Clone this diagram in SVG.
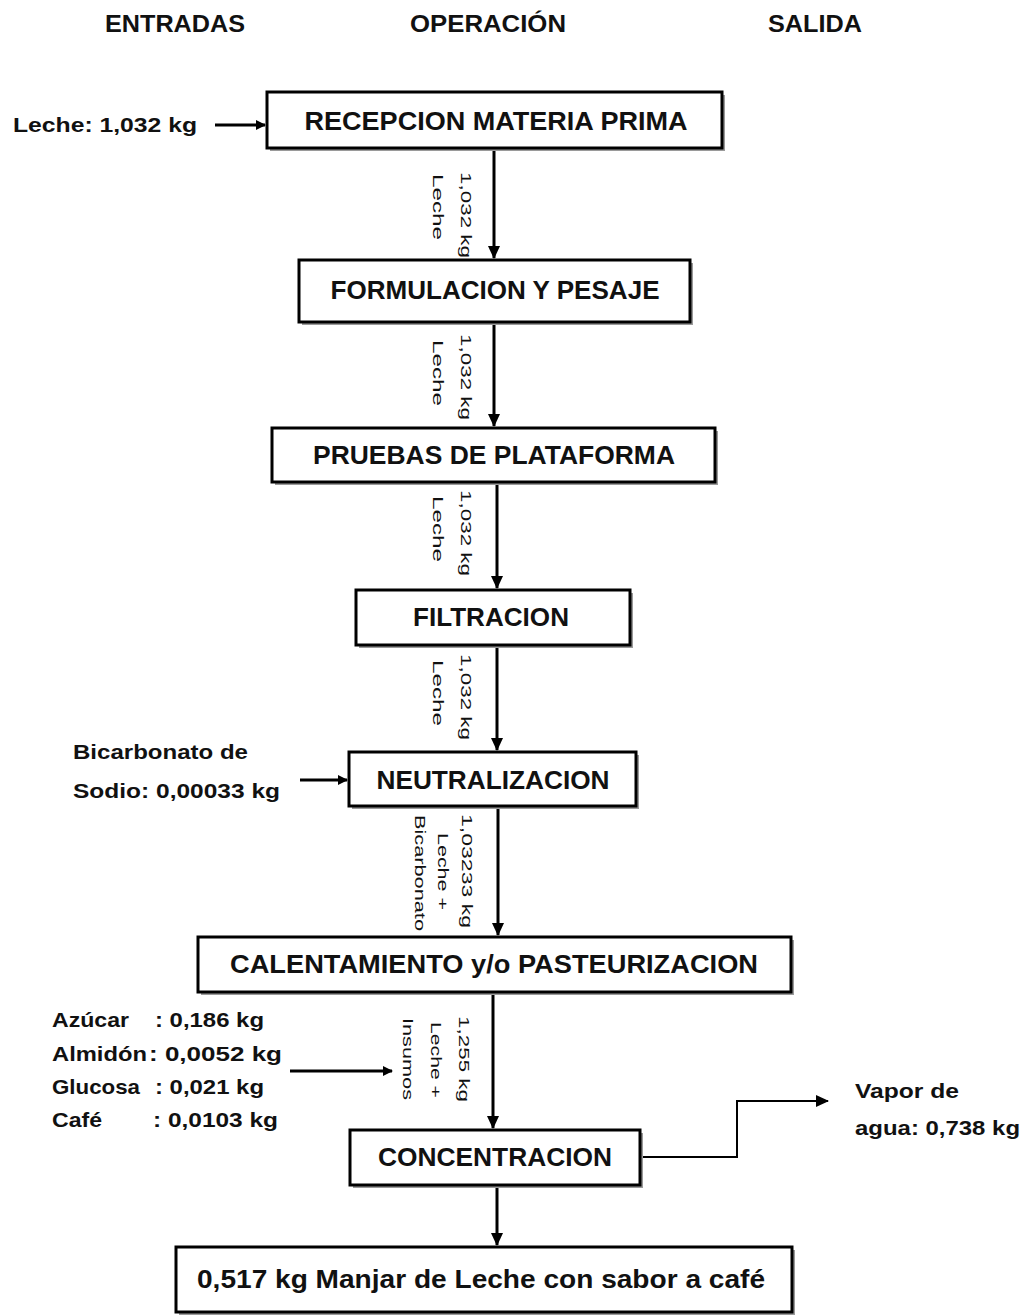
<svg xmlns="http://www.w3.org/2000/svg" width="1025" height="1315" viewBox="0 0 1025 1315">
<style>
.hdr{font-family:"Liberation Sans",Arial,sans-serif;font-weight:bold;font-size:23px;fill:#111}
.bt{font-family:"Liberation Sans",Arial,sans-serif;font-weight:bold;font-size:25px;fill:#111;text-anchor:middle}
.in{font-family:"Liberation Sans",Arial,sans-serif;font-weight:bold;font-size:21px;fill:#111}
.lb{font-family:"Liberation Sans",Arial,sans-serif;font-size:15px;fill:#111}
.box{fill:#fff;stroke:#000;stroke-width:3}
.sh{fill:#9a9a9a}
.ln{stroke:#000;stroke-width:3;fill:none}
.ln2{stroke:#000;stroke-width:2;fill:none}
</style>
<defs>
<marker id="ah" markerWidth="10" markerHeight="10" refX="9" refY="5" orient="auto" markerUnits="userSpaceOnUse">
<path d="M0,0 L10,5 L0,10 Z" fill="#000"/>
</marker>
<marker id="ah2" markerWidth="13" markerHeight="12" refX="12" refY="6" orient="auto" markerUnits="userSpaceOnUse">
<path d="M0,0 L13,6 L0,12 Z" fill="#000"/>
</marker>
</defs>
<rect width="1025" height="1315" fill="#fff"/>
<g id="headers">
<text class="hdr" x="105" y="32" textLength="140" lengthAdjust="spacingAndGlyphs">ENTRADAS</text>
<text class="hdr" x="410" y="32" textLength="156" lengthAdjust="spacingAndGlyphs">OPERACIÓN</text>
<text class="hdr" x="768" y="32" textLength="94" lengthAdjust="spacingAndGlyphs">SALIDA</text>
</g>
<g id="connectors">
<line class="ln" x1="215" y1="125" x2="265" y2="125" marker-end="url(#ah)"/>
<line class="ln" x1="494" y1="149" x2="494" y2="258" marker-end="url(#ah2)"/>
<line class="ln" x1="494" y1="323" x2="494" y2="426" marker-end="url(#ah2)"/>
<line class="ln" x1="497" y1="483" x2="497" y2="588" marker-end="url(#ah2)"/>
<line class="ln" x1="497" y1="646" x2="497" y2="750" marker-end="url(#ah2)"/>
<line class="ln" x1="300" y1="780" x2="347" y2="780" marker-end="url(#ah)"/>
<line class="ln" x1="498" y1="807" x2="498" y2="935" marker-end="url(#ah2)"/>
<line class="ln" x1="290" y1="1071" x2="392" y2="1071" marker-end="url(#ah)"/>
<line class="ln" x1="493" y1="993" x2="493" y2="1128" marker-end="url(#ah2)"/>
<path class="ln2" d="M640,1157 H737 V1101 H828" marker-end="url(#ah2)"/>
<line class="ln" x1="497" y1="1186" x2="497" y2="1245" marker-end="url(#ah2)"/>
</g>
<g id="labels">
<text class="lb" transform="translate(461,172) rotate(90)" textLength="86" lengthAdjust="spacingAndGlyphs">1,032 kg</text>
<text class="lb" transform="translate(433,174) rotate(90)" textLength="66" lengthAdjust="spacingAndGlyphs">Leche</text>
<text class="lb" transform="translate(461,334) rotate(90)" textLength="86" lengthAdjust="spacingAndGlyphs">1,032 kg</text>
<text class="lb" transform="translate(433,340) rotate(90)" textLength="66" lengthAdjust="spacingAndGlyphs">Leche</text>
<text class="lb" transform="translate(461,490) rotate(90)" textLength="86" lengthAdjust="spacingAndGlyphs">1,032 kg</text>
<text class="lb" transform="translate(433,496) rotate(90)" textLength="66" lengthAdjust="spacingAndGlyphs">Leche</text>
<text class="lb" transform="translate(461,654) rotate(90)" textLength="86" lengthAdjust="spacingAndGlyphs">1,032 kg</text>
<text class="lb" transform="translate(433,660) rotate(90)" textLength="66" lengthAdjust="spacingAndGlyphs">Leche</text>
<text class="lb" transform="translate(462,814) rotate(90)" textLength="114" lengthAdjust="spacingAndGlyphs">1,03233 kg</text>
<text class="lb" transform="translate(438,833) rotate(90)" textLength="77" lengthAdjust="spacingAndGlyphs">Leche +</text>
<text class="lb" transform="translate(415,815) rotate(90)" textLength="116" lengthAdjust="spacingAndGlyphs">Bicarbonato</text>
<text class="lb" transform="translate(459,1016) rotate(90)" textLength="86" lengthAdjust="spacingAndGlyphs">1,255 kg</text>
<text class="lb" transform="translate(431,1022) rotate(90)" textLength="76" lengthAdjust="spacingAndGlyphs">Leche +</text>
<text class="lb" transform="translate(403,1018) rotate(90)" textLength="82" lengthAdjust="spacingAndGlyphs">Insumos</text>
</g>
<g id="inputs">
<text class="in" x="13" y="132" textLength="184" lengthAdjust="spacingAndGlyphs">Leche: 1,032 kg</text>
<text class="in" x="73" y="759" textLength="175" lengthAdjust="spacingAndGlyphs">Bicarbonato de</text>
<text class="in" x="73" y="798" textLength="207" lengthAdjust="spacingAndGlyphs">Sodio: 0,00033 kg</text>
<text class="in" x="52" y="1027" textLength="77" lengthAdjust="spacingAndGlyphs">Azúcar</text>
<text class="in" x="155" y="1027" textLength="109" lengthAdjust="spacingAndGlyphs">: 0,186 kg</text>
<text class="in" x="52" y="1061" textLength="95" lengthAdjust="spacingAndGlyphs">Almidón</text>
<text class="in" x="149" y="1061" textLength="133" lengthAdjust="spacingAndGlyphs">: 0,0052 kg</text>
<text class="in" x="52" y="1094" textLength="88" lengthAdjust="spacingAndGlyphs">Glucosa</text>
<text class="in" x="155" y="1094" textLength="109" lengthAdjust="spacingAndGlyphs">: 0,021 kg</text>
<text class="in" x="52" y="1127" textLength="50" lengthAdjust="spacingAndGlyphs">Café</text>
<text class="in" x="153" y="1127" textLength="125" lengthAdjust="spacingAndGlyphs">: 0,0103 kg</text>
</g>
<g id="output-vapor">
<text class="in" x="855" y="1098" textLength="104" lengthAdjust="spacingAndGlyphs">Vapor de</text>
<text class="in" x="855" y="1135" textLength="165" lengthAdjust="spacingAndGlyphs">agua: 0,738 kg</text>
</g>
<g id="n1">
<rect class="sh" x="270" y="95" width="455" height="56"/>
<rect class="box" x="267" y="92" width="455" height="56"/>
<text class="bt" x="496" y="130" textLength="383" lengthAdjust="spacingAndGlyphs">RECEPCION MATERIA  PRIMA</text>
</g>
<g id="n2">
<rect class="sh" x="302" y="263" width="391" height="62"/>
<rect class="box" x="299" y="260" width="391" height="62"/>
<text class="bt" x="495" y="299" textLength="329" lengthAdjust="spacingAndGlyphs">FORMULACION Y PESAJE</text>
</g>
<g id="n3">
<rect class="sh" x="275" y="431" width="443" height="54"/>
<rect class="box" x="272" y="428" width="443" height="54"/>
<text class="bt" x="494" y="464" textLength="362" lengthAdjust="spacingAndGlyphs">PRUEBAS DE  PLATAFORMA</text>
</g>
<g id="n4">
<rect class="sh" x="359" y="593" width="274" height="55"/>
<rect class="box" x="356" y="590" width="274" height="55"/>
<text class="bt" x="491" y="626" textLength="156" lengthAdjust="spacingAndGlyphs">FILTRACION</text>
</g>
<g id="n5">
<rect class="sh" x="352" y="755" width="287" height="54"/>
<rect class="box" x="349" y="752" width="287" height="54"/>
<text class="bt" x="493" y="789" textLength="233" lengthAdjust="spacingAndGlyphs">NEUTRALIZACION</text>
</g>
<g id="n6">
<rect class="sh" x="201" y="940" width="593" height="55"/>
<rect class="box" x="198" y="937" width="593" height="55"/>
<text class="bt" x="494" y="973" textLength="528" lengthAdjust="spacingAndGlyphs">CALENTAMIENTO y/o PASTEURIZACION</text>
</g>
<g id="n7">
<rect class="sh" x="353" y="1133" width="290" height="55"/>
<rect class="box" x="350" y="1130" width="290" height="55"/>
<text class="bt" x="495" y="1166" textLength="234" lengthAdjust="spacingAndGlyphs">CONCENTRACION</text>
</g>
<g id="n8">
<rect class="sh" x="179" y="1250" width="616" height="65"/>
<rect class="box" x="176" y="1247" width="616" height="65"/>
<text class="bt" x="481" y="1288" textLength="568" lengthAdjust="spacingAndGlyphs">0,517  kg Manjar de Leche con sabor a café</text>
</g>
</svg>
